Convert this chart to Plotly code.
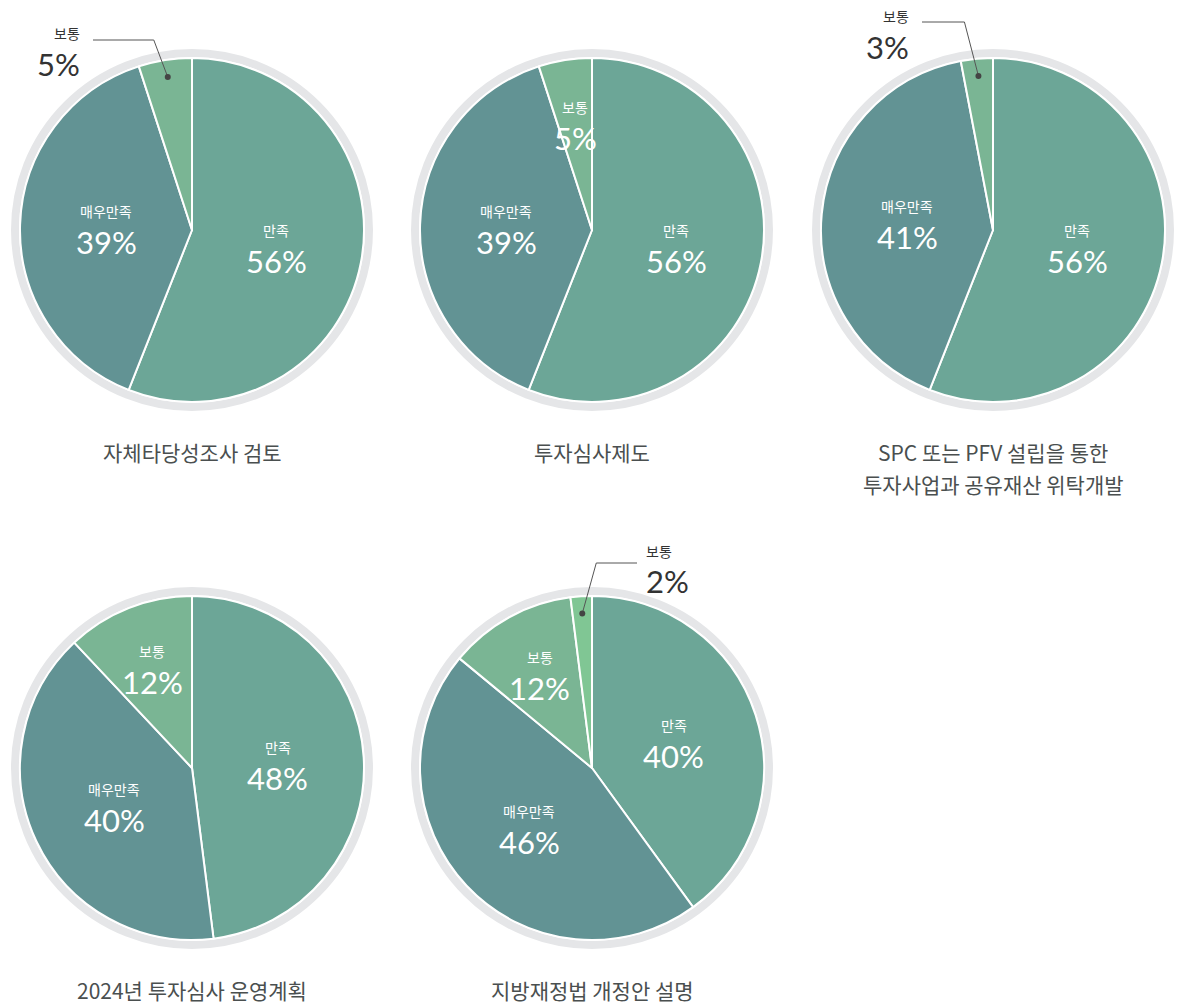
import math
import plotly.graph_objects as go

W, H = 1179, 1004

# ---- data -------------------------------------------------------------
titles = [
    ["자체타당성조사 검토"],
    ["투자심사제도"],
    ["SPC 또는 PFV 설립을 통한", "투자사업과 공유재산 위탁개발"],
    ["2024년 투자심사 운영계획"],
    ["지방재정법 개정안 설명"],
]
labels = [
    ["만족", "매우만족", "보통"],
    ["만족", "매우만족", "보통"],
    ["만족", "매우만족", "보통"],
    ["만족", "매우만족", "보통"],
    ["만족", "매우만족", "보통", "보통"],
]
values = [
    [56, 39, 5],
    [56, 39, 5],
    [56, 41, 3],
    [48, 40, 12],
    [40, 46, 12, 2],
]
# slices whose label sits outside the pie with a leader line
outside = [
    [False, False, True],
    [False, False, False],
    [False, False, True],
    [False, False, False],
    [False, False, False, True],
]

# ---- style --------------------------------------------------------------
slice_colors = {
    "만족": "#6ca697",
    "매우만족": "#629394",
    "보통": "#7ab594",
}
thin_color = "#80c694"   # second, thin 보통 slice
ring_color = "#e5e6e8"
title_color = "#4a4f4f"
dark_text = "#333333"
num_font = "Lato, 'Noto Sans CJK KR', sans-serif"
kr_font = "'Noto Sans CJK KR', 'Noto Sans', sans-serif"

R = 172
centers = [(192, 230), (592, 230), (993, 230), (192, 768), (592, 768)]
title_top = [452, 452, 452, 990, 990]
title_gap = 32
# outside label placement: (text anchor x, name y, value y, line y, side)
callouts = {
    0: (82, 33, 64, 40, "left"),
    2: (911, 16, 47, 22, "left"),
    4: (644, 551, 581, 563, "right"),
}


def px(x):
    return x / W


def py(y):
    return 1 - y / H


fig = go.Figure()
shapes = []
annotations = []

for i, (cx, cy) in enumerate(centers):
    vals = values[i]
    labs = labels[i]
    cols = [slice_colors[l] for l in labs]
    if labs.count("보통") == 2:
        cols[-1] = thin_color

    fig.add_trace(go.Pie(
        values=vals,
        labels=[f"{l} {k}" for k, l in enumerate(labs)],
        sort=False,
        direction="clockwise",
        rotation=0,
        textinfo="none",
        hovertemplate="%{value}%<extra></extra>",
        marker=dict(colors=cols, line=dict(color="white", width=2)),
        domain=dict(x=[px(cx - R), px(cx + R)], y=[py(cy + R), py(cy - R)]),
        showlegend=False,
    ))

    # grey ring around the pie
    rr = 177
    shapes.append(dict(type="circle", xref="x", yref="y", layer="below",
                       x0=cx - rr, x1=cx + rr, y0=cy - rr, y1=cy + rr,
                       line=dict(color=ring_color, width=8)))

    total = sum(vals)
    cum = 0
    for j, v in enumerate(vals):
        mid = (cum + v / 2) / total * 2 * math.pi
        cum += v
        if outside[i][j]:
            k = 0.9
            dx = cx + k * R * math.sin(mid)
            dy = cy - k * R * math.cos(mid)
            tx, ny, vy, ly, side = callouts[i]
            if side == "left":
                ex, sx, anchor = dx - 14, tx + 11, "right"
            else:
                ex, sx, anchor = dx + 14, tx - 7, "left"
            shapes.append(dict(type="path", xref="x", yref="y",
                               path=f"M {sx},{ly} L {ex},{ly} L {dx},{dy}",
                               line=dict(color="#555555", width=1)))
            shapes.append(dict(type="circle", xref="x", yref="y",
                               x0=dx - 3, x1=dx + 3, y0=dy - 3, y1=dy + 3,
                               fillcolor="#444444", line=dict(width=0)))
            annotations.append(dict(x=tx, y=ny, xref="x", yref="y",
                                    text=labs[j], showarrow=False,
                                    xanchor=anchor, yanchor="middle",
                                    font=dict(family=kr_font, size=14, color=dark_text)))
            annotations.append(dict(x=tx, y=vy, xref="x", yref="y",
                                    text=f"{v}%", showarrow=False,
                                    xanchor=anchor, yanchor="middle",
                                    font=dict(family=num_font, size=31, color=dark_text)))
        else:
            k = 0.5 if v / total > 0.2 else 0.63
            lx = cx + k * R * math.sin(mid)
            lyc = cy - k * R * math.cos(mid)
            annotations.append(dict(x=lx, y=lyc - 16, xref="x", yref="y",
                                    text=labs[j], showarrow=False,
                                    xanchor="center", yanchor="middle",
                                    font=dict(family=kr_font, size=14, color="white")))
            annotations.append(dict(x=lx, y=lyc + 15, xref="x", yref="y",
                                    text=f"{v}%", showarrow=False,
                                    xanchor="center", yanchor="middle",
                                    font=dict(family=num_font, size=31, color="white")))

    for n, line in enumerate(titles[i]):
        annotations.append(dict(x=cx, y=title_top[i] + n * title_gap,
                                xref="x", yref="y",
                                text=line, showarrow=False,
                                xanchor="center", yanchor="middle",
                                font=dict(family=kr_font, size=21, color=title_color)))

fig.update_layout(
    width=W, height=H,
    margin=dict(l=0, r=0, t=0, b=0),
    paper_bgcolor="white", plot_bgcolor="rgba(0,0,0,0)",
    xaxis=dict(range=[0, W], visible=False, domain=[0, 1], fixedrange=True),
    yaxis=dict(range=[H, 0], visible=False, domain=[0, 1], fixedrange=True),
    shapes=shapes,
    annotations=annotations,
)

fig.write_html("out.html")
